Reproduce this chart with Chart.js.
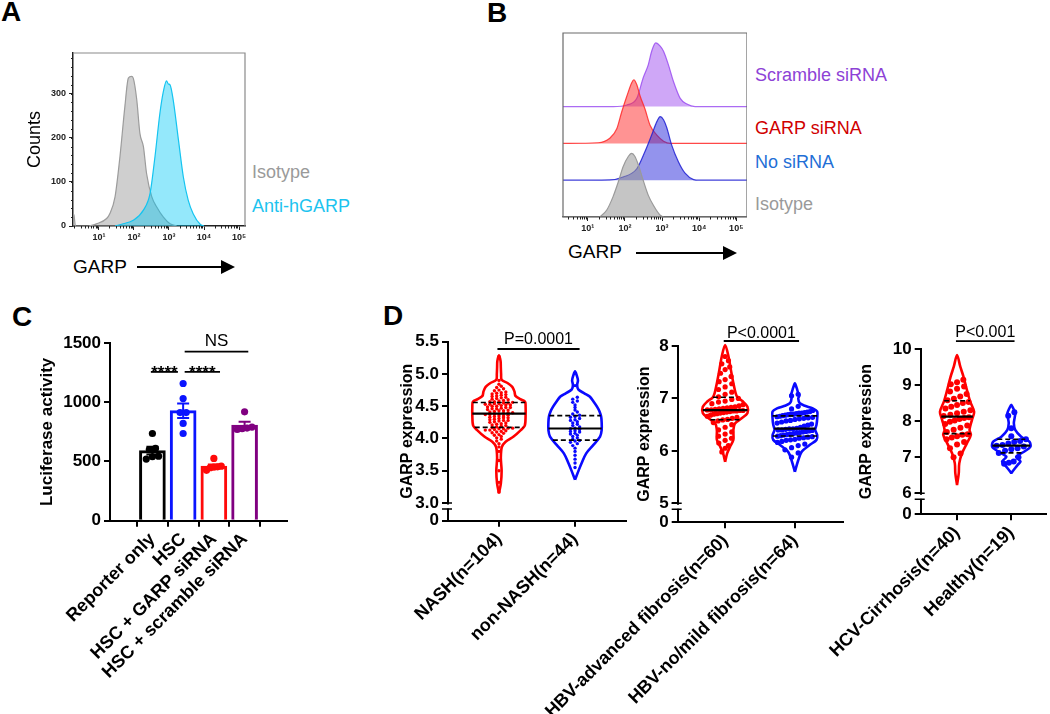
<!DOCTYPE html>
<html>
<head>
<meta charset="utf-8">
<script src="https://cdn.jsdelivr.net/npm/chart.js@4.4.1/dist/chart.umd.min.js"></script>
<style>
  body { margin: 0; width: 1050px; height: 714px; background: #fff; position: relative; overflow: hidden;
         font-family: "Liberation Sans", Arial, sans-serif; }
  canvas { position: absolute; }
  .lbl { position: absolute; white-space: nowrap; line-height: 1; }
  .letter { font-weight: bold; font-size: 28px; }
  .arrow { position: absolute; height: 2px; background: #000; }
  .arrow:after { content: ""; position: absolute; right: -2px; top: -6px;
                 border-left: 14px solid #000; border-top: 7px solid transparent; border-bottom: 7px solid transparent; }
</style>
</head>
<body>

<div class="lbl letter" style="left:1px;top:-2px">A</div>
<div class="lbl letter" style="left:487px;top:-1px">B</div>
<div class="lbl letter" style="left:12px;top:303px">C</div>
<div class="lbl letter" style="left:383px;top:302px">D</div>

<canvas id="cA" style="left:0;top:45px" width="250" height="205"></canvas>
<div class="lbl" style="left:252px;top:163px;font-size:18px;color:#9a9a9a">Isotype</div>
<div class="lbl" style="left:252px;top:197px;font-size:18px;color:#1cc3ef">Anti-hGARP</div>
<div class="lbl" style="left:73px;top:257px;font-size:19px">GARP</div>
<div class="arrow" style="left:137px;top:266px;width:96px"></div>

<canvas id="cB" style="left:555px;top:25px" width="192" height="214"></canvas>
<div class="lbl" style="left:755px;top:66px;font-size:18px;color:#8d42d6">Scramble siRNA</div>
<div class="lbl" style="left:755px;top:119px;font-size:18px;color:#d00000">GARP siRNA</div>
<div class="lbl" style="left:755px;top:153px;font-size:18px;color:#1f6fd6">No siRNA</div>
<div class="lbl" style="left:755px;top:195px;font-size:18px;color:#9a9a9a">Isotype</div>
<div class="lbl" style="left:568px;top:242px;font-size:19px">GARP</div>
<div class="arrow" style="left:636px;top:252px;width:99px"></div>

<canvas id="cC" style="left:0;top:300px" width="292" height="414"></canvas>
<canvas id="cD1" style="left:380px;top:300px" width="250" height="414"></canvas>
<canvas id="cD2" style="left:500px;top:300px" width="347" height="414"></canvas>
<canvas id="cD3" style="left:730px;top:300px" width="320" height="414"></canvas>

<script>
// ---- A: histogram, log10 intensity vs counts
const decades = [1, 2, 3, 4, 5];
const aIsoLog    = [0.26, 0.29, 0.33, 0.69, 0.93, 1.22, 1.31, 1.46, 1.60, 1.74, 1.84, 1.93, 1.98, 2.08, 2.17, 2.27, 2.36, 2.51, 2.65, 2.84, 3.03, 3.22];
const aIsoCount  = [28, 24, 0, 0, 5, 17, 28, 66, 157, 270, 335, 339, 335, 286, 210, 180, 119, 66, 43, 20, 5, 0];
const aAntiLog   = [1.46, 1.69, 1.98, 2.27, 2.46, 2.60, 2.74, 2.84, 2.93, 2.98, 3.03, 3.12, 3.27, 3.41, 3.55, 3.69, 3.89, 4.00];
const aAntiCount = [0, 5, 13, 36, 74, 157, 255, 305, 329, 322, 320, 286, 195, 111, 58, 28, 4, 0];

// ---- B: offset histograms, % of max
const bScrLog  = [0.33, 1.68, 2.05, 2.32, 2.49, 2.63, 2.72, 2.83, 2.95, 3.04, 3.17, 3.31, 3.49, 3.67, 3.89, 5.29];
const bScrPct  = [0, 0, 2.5, 13, 45, 66, 87, 100, 95, 87, 66, 39, 13, 4, 0, 0];
const bGarpLog = [0.33, 1.28, 1.59, 1.78, 1.91, 2.05, 2.18, 2.24, 2.32, 2.41, 2.54, 2.68, 2.86, 3.04, 3.22, 5.29];
const bGarpPct = [0, 1, 8, 23, 49, 74, 95, 100, 92, 74, 54, 28, 13, 3.5, 0, 0];
const bNoLog   = [0.33, 1.59, 1.95, 2.32, 2.54, 2.72, 2.86, 2.95, 3.04, 3.13, 3.26, 3.44, 3.62, 3.85, 4.00, 5.29];
const bNoPct   = [0, 0.5, 5, 18, 45, 71, 92, 100, 95, 82, 55, 29, 11, 1, 0, 0];
const bIsoLog  = [1.32, 1.51, 1.68, 1.82, 1.95, 2.09, 2.18, 2.27, 2.36, 2.49, 2.63, 2.77, 2.95, 3.04];
const bIsoPct  = [0, 11, 32, 55, 79, 95, 100, 95, 82, 58, 34, 18, 2.7, 0];

// ---- C: luciferase
const cLabels   = ['Reporter only', 'HSC', 'HSC + GARP siRNA', 'HSC + scramble siRNA'];
const cReporter = [736, 610, 600, 545, 540, 520];
const cHsc      = [1158, 1031, 913, 913, 821, 736];
const cGarp     = [526, 460, 455, 452, 448, 425];
const cScramble = [919, 790, 782, 776, 770];

// ---- D: GARP expression per group
const d1Labels = ['NASH(n=104)', 'non-NASH(n=44)'];
const nash = [3.17, 3.32, 3.50, 3.66, 3.80, 3.87, 3.92, 3.96, 3.99, 4.01, 4.03, 4.05, 4.06, 4.08, 4.09, 4.10, 4.11, 4.12, 4.13, 4.13, 4.14, 4.15, 4.15, 4.16, 4.16, 4.17,
  4.18, 4.19, 4.20, 4.21, 4.22, 4.23, 4.24, 4.25, 4.26, 4.27, 4.28, 4.28, 4.29, 4.30, 4.31, 4.32, 4.32, 4.33, 4.34, 4.35, 4.35, 4.36, 4.37, 4.37, 4.38, 4.38,
  4.39, 4.40, 4.40, 4.41, 4.42, 4.43, 4.43, 4.44, 4.45, 4.46, 4.46, 4.47, 4.48, 4.48, 4.49, 4.50, 4.50, 4.51, 4.52, 4.52, 4.53, 4.53, 4.54, 4.54, 4.55, 4.55,
  4.56, 4.57, 4.57, 4.58, 4.59, 4.60, 4.61, 4.62, 4.63, 4.64, 4.65, 4.66, 4.67, 4.68, 4.69, 4.70, 4.71, 4.72, 4.74, 4.75, 4.77, 4.79, 4.81, 4.84, 4.90, 5.27];
const nonNash = [3.55, 3.62, 3.68, 3.74, 3.80, 3.85, 3.89, 3.92, 3.94, 3.96, 3.97,
  3.99, 4.01, 4.03, 4.05, 4.07, 4.08, 4.10, 4.11, 4.12, 4.14, 4.15,
  4.16, 4.18, 4.20, 4.22, 4.24, 4.26, 4.28, 4.29, 4.31, 4.33, 4.34,
  4.36, 4.38, 4.41, 4.44, 4.48, 4.52, 4.56, 4.58, 4.61, 4.64, 4.82];
const nashProfY = [3.15, 3.30, 3.50, 3.70, 3.87, 3.95, 4.03, 4.13, 4.20, 4.35, 4.50, 4.57, 4.61, 4.66, 4.73, 4.80, 4.86, 4.91, 5.00, 5.10, 5.20, 5.29];
const nashProfW = [0, 0.07, 0.10, 0.07, 0.11, 0.25, 0.55, 0.82, 0.97, 1.0, 1.0, 0.98, 0.80, 0.62, 0.58, 0.50, 0.32, 0.10, 0.08, 0.07, 0.06, 0];
const nonNashProfY = [3.36, 3.51, 3.62, 3.77, 3.90, 4.03, 4.13, 4.25, 4.34, 4.42, 4.49, 4.57, 4.65, 4.70, 4.76, 4.83, 4.90, 4.97, 5.04];
const nonNashProfW = [0, 0.14, 0.25, 0.42, 0.69, 0.94, 1.0, 1.0, 0.98, 0.92, 0.83, 0.70, 0.55, 0.35, 0.12, 0.08, 0.11, 0.07, 0];

const d2Labels = ['HBV-advanced fibrosis(n=60)', 'HBV-no/mild fibrosis(n=64)'];
const hbvAdv = [5.98, 6.05, 6.10, 6.15, 6.20, 6.24, 6.28, 6.32, 6.36, 6.40, 6.45, 6.50, 6.54, 6.57, 6.59,
  6.60, 6.62, 6.64, 6.66, 6.68, 6.70, 6.71, 6.72, 6.73, 6.74, 6.75, 6.76, 6.76, 6.77, 6.77,
  6.78, 6.78, 6.79, 6.80, 6.81, 6.82, 6.83, 6.84, 6.86, 6.88, 6.90, 6.93, 6.95, 6.98, 7.00,
  7.03, 7.08, 7.12, 7.17, 7.22, 7.28, 7.32, 7.36, 7.42, 7.48, 7.55, 7.60, 7.66, 7.72, 7.80];
const hbvMild = [5.88, 5.96, 6.02, 6.06, 6.10, 6.13, 6.16, 6.18, 6.20, 6.21, 6.22, 6.24, 6.25, 6.26, 6.27, 6.28,
  6.29, 6.30, 6.31, 6.32, 6.33, 6.34, 6.35, 6.36, 6.37, 6.38, 6.39, 6.40, 6.40, 6.41, 6.42, 6.42,
  6.43, 6.45, 6.47, 6.49, 6.51, 6.53, 6.55, 6.57, 6.58, 6.60, 6.61, 6.62, 6.63, 6.64, 6.65, 6.66,
  6.67, 6.68, 6.69, 6.70, 6.70, 6.71, 6.72, 6.72, 6.73, 6.74, 6.75, 6.77, 6.80, 6.85, 7.05, 7.08];
const hbvAdvProfY = [5.79, 5.95, 6.08, 6.21, 6.40, 6.52, 6.62, 6.72, 6.84, 6.94, 7.02, 7.10, 7.29, 7.54, 7.80, 8.02];
const hbvAdvProfW = [0, 0.09, 0.22, 0.37, 0.37, 0.44, 0.74, 1.0, 1.0, 0.80, 0.55, 0.47, 0.37, 0.26, 0.15, 0];
const hbvMildProfY = [5.60, 5.82, 5.98, 6.11, 6.21, 6.30, 6.40, 6.50, 6.62, 6.75, 6.81, 6.86, 6.91, 7.00, 7.05, 7.10, 7.20, 7.29];
const hbvMildProfW = [0, 0.15, 0.30, 0.66, 0.97, 1.0, 0.91, 0.97, 1.0, 1.0, 0.80, 0.45, 0.22, 0.15, 0.20, 0.15, 0.08, 0];

const d3Labels = ['HCV-Cirrhosis(n=40)', 'Healthy(n=19)'];
const hcv = [7.00, 7.10, 7.25, 7.35, 7.42, 7.50, 7.55, 7.58, 7.62, 7.64,
  7.70, 7.76, 7.82, 7.88, 7.92, 7.98, 8.02, 8.06, 8.09, 8.11,
  8.14, 8.18, 8.22, 8.26, 8.30, 8.35, 8.40, 8.45, 8.50, 8.53,
  8.58, 8.62, 8.68, 8.75, 8.82, 8.90, 8.96, 9.02, 9.08, 9.15];
const healthy = [6.82, 6.85, 6.88, 7.00, 7.12, 7.18, 7.22, 7.25, 7.30, 7.32, 7.34, 7.38, 7.42, 7.45, 7.50, 7.58, 7.80, 8.15, 8.25];
const hcvProfY = [6.23, 6.55, 6.83, 7.11, 7.39, 7.62, 7.76, 8.03, 8.26, 8.54, 8.86, 9.23, 9.51, 9.83];
const hcvProfW = [0, 0.10, 0.13, 0.29, 0.58, 0.81, 0.73, 0.87, 1.0, 0.77, 0.58, 0.38, 0.19, 0];
const healthyProfY = [6.56, 6.70, 6.80, 6.88, 6.95, 7.02, 7.16, 7.29, 7.43, 7.57, 7.76, 7.94, 8.10, 8.22, 8.35, 8.45];
const healthyProfW = [0, 0.23, 0.40, 0.54, 0.40, 0.29, 0.77, 1.12, 1.06, 0.58, 0.23, 0.15, 0.20, 0.23, 0.12, 0];

const RED = '#ff0000', BLUE = '#0a0aff';

Chart.defaults.font.family = '"Liberation Sans", "DejaVu Sans", Arial, sans-serif';
Chart.defaults.color = '#000';
Chart.defaults.animation = false;
Chart.defaults.plugins.legend.display = false;
Chart.defaults.plugins.tooltip.enabled = false;

// fixed axis boxes so the plot areas land where they should
const fixY = w => s => { s.width = w; s.paddingTop = 0; s.paddingBottom = 0; };
const fixX = h => s => { s.height = h; s.paddingLeft = 0; s.paddingRight = 0; };
const setTicks = vals => s => { s.ticks = vals.map(v => ({ value: v })); };

const sup = ['⁰', '¹', '²', '³', '⁴', '⁵'];
const decadeLabel = v => '10' + sup[v];

const mean = a => a.reduce((s, v) => s + v, 0) / a.length;
const sem = a => {
  const m = mean(a);
  return Math.sqrt(a.reduce((s, v) => s + (v - m) * (v - m), 0) / (a.length - 1)) / Math.sqrt(a.length);
};
function quantile(sorted, p) {
  const pos = p * (sorted.length + 1) - 1;
  const lo = Math.max(0, Math.min(sorted.length - 1, Math.floor(pos)));
  const hi = Math.min(sorted.length - 1, lo + 1);
  return sorted[lo] + (sorted[hi] - sorted[lo]) * (pos - Math.floor(pos));
}
function profileAt(ys, ws, y) {
  if (y <= ys[0]) return ws[0];
  for (let i = 1; i < ys.length; i++) {
    if (y <= ys[i]) return ws[i - 1] + (y - ys[i - 1]) / (ys[i] - ys[i - 1]) * (ws[i] - ws[i - 1]);
  }
  return ws[ws.length - 1];
}

// dots grouped into rows, spread sideways inside the available width
function arrangeDots(values, center, bin, step, halfAt) {
  const rows = [];
  [...values].sort((a, b) => a - b).forEach(v => {
    const r = rows[rows.length - 1];
    if (r && v - r[0] < bin) r.push(v); else rows.push([v]);
  });
  const pts = [];
  rows.forEach(r => {
    let st = step;
    if (r.length > 1) st = Math.min(step, 2 * halfAt(mean(r)) * 0.8 / (r.length - 1));
    r.forEach((v, i) => pts.push({ x: center + (i - (r.length - 1) / 2) * st, y: v }));
  });
  return pts;
}

// frame + minor log ticks for the cytometry panels
const flowPlugin = {
  id: 'flow',
  afterDraw(chart, args, o) {
    const { ctx, chartArea: a, scales: { x, y } } = chart;
    ctx.save();
    ctx.strokeStyle = o.frame; ctx.lineWidth = 1.2;
    ctx.beginPath();
    if (o.all) ctx.rect(a.left, a.top, a.right - a.left, a.bottom - a.top);
    else { ctx.moveTo(a.left, a.top); ctx.lineTo(a.right, a.top); ctx.lineTo(a.right, a.bottom); }
    ctx.stroke();
    ctx.strokeStyle = '#222'; ctx.lineWidth = 1;
    ctx.beginPath();
    for (let d = 0; d < 6; d++) {
      for (let k = 2; k < 10; k++) {
        const v = d + Math.log10(k);
        if (v < x.min || v > x.max) continue;
        const px = Math.round(x.getPixelForValue(v)) + 0.5;
        ctx.moveTo(px, a.bottom); ctx.lineTo(px, a.bottom + 2.5);
      }
    }
    if (o.yMinor) {
      for (let v = o.yMinor; v < y.max; v += o.yMinor) {
        const py = Math.round(y.getPixelForValue(v)) + 0.5;
        ctx.moveTo(a.left, py); ctx.lineTo(a.left - 2, py);
      }
    }
    ctx.stroke();
    ctx.restore();
  }
};

// significance lines with text
const notesPlugin = {
  id: 'notes',
  afterDraw(chart, args, o) {
    const { ctx, scales: { x, y } } = chart;
    ctx.save();
    ctx.strokeStyle = '#000'; ctx.fillStyle = '#000'; ctx.lineWidth = 1.8;
    ctx.textAlign = 'center'; ctx.textBaseline = 'alphabetic';
    o.items.forEach(it => {
      const x1 = x.getPixelForValue(it.from), x2 = x.getPixelForValue(it.to);
      const yl = y.getPixelForValue(it.at);
      ctx.beginPath(); ctx.moveTo(x1, yl); ctx.lineTo(x2, yl); ctx.stroke();
      ctx.font = it.font;
      ctx.fillText(it.text, (x1 + x2) / 2, y.getPixelForValue(it.textAt));
    });
    ctx.restore();
  }
};

// broken y axis just below the lowest labelled tick
const breakPlugin = {
  id: 'brk',
  afterDraw(chart, args, o) {
    const { ctx, scales: { y } } = chart;
    const x0 = chart.chartArea.left;
    const yb = y.getPixelForValue(o.at);
    ctx.save();
    ctx.fillStyle = '#fff';
    ctx.fillRect(x0 - 2, yb + 1.5, 4, 4);
    ctx.strokeStyle = '#000'; ctx.lineWidth = 1.6;
    ctx.beginPath();
    ctx.moveTo(x0 - 6, yb); ctx.lineTo(x0 + 4, yb);
    ctx.moveTo(x0 - 6, yb + 6); ctx.lineTo(x0 + 4, yb + 6);
    ctx.stroke();
    ctx.restore();
  }
};

// mean ± SEM
const semPlugin = {
  id: 'sem',
  afterDatasetsDraw(chart, args, o) {
    const { ctx, scales: { x, y } } = chart;
    ctx.save(); ctx.lineWidth = 2;
    o.means.forEach((m, i) => {
      const px = x.getPixelForValue(i + 1);
      const top = y.getPixelForValue(m + o.sems[i]), bot = y.getPixelForValue(m - o.sems[i]);
      ctx.strokeStyle = o.colors[i];
      ctx.beginPath();
      ctx.moveTo(px, top); ctx.lineTo(px, bot);
      ctx.moveTo(px - 6, top); ctx.lineTo(px + 6, top);
      ctx.moveTo(px - 6, bot); ctx.lineTo(px + 6, bot);
      ctx.stroke();
    });
    ctx.restore();
  }
};

const smallTick = { size: 9, weight: 'bold' };
const catFont = { size: 18, weight: 'bold' };

// ---------- A
function hist(xs, ys, fill, line) {
  return {
    data: xs.map((x, i) => ({ x, y: ys[i] })),
    backgroundColor: fill, borderColor: line, borderWidth: 1.2,
    fill: 'origin', pointRadius: 0, cubicInterpolationMode: 'monotone'
  };
}

new Chart(document.getElementById('cA'), {
  type: 'line',
  data: {
    datasets: [
      hist(aAntiLog, aAntiCount, 'rgba(0,200,245,0.42)', '#14c4f0'),
      hist(aIsoLog, aIsoCount, 'rgba(160,160,160,0.5)', '#9c9c9c'),
    ]
  },
  options: {
    responsive: false,
    layout: { padding: { top: 8, right: 5, left: 0, bottom: 0 } },
    scales: {
      x: {
        type: 'linear', min: 0.26, max: 5.17,
        afterFit: fixX(24), afterBuildTicks: setTicks(decades),
        ticks: { callback: v => decadeLabel(v), font: smallTick, color: '#222', maxRotation: 0, padding: 2 },
        grid: { drawOnChartArea: false, tickLength: 4, color: '#222' },
        border: { color: '#222', width: 1.5 }
      },
      y: {
        min: 0, max: 392,
        afterFit: fixY(73), afterBuildTicks: setTicks([0, 100, 200, 300]),
        ticks: { font: smallTick, color: '#222', padding: 3 },
        grid: { drawOnChartArea: false, tickLength: 4, color: '#222' },
        border: { color: '#222', width: 1.5 },
        title: { display: true, text: 'Counts', font: { size: 18 }, padding: { top: 24, bottom: 0 } }
      }
    },
    plugins: { flow: { frame: '#8a8a8a', all: false, yMinor: 20 } }
  },
  plugins: [flowPlugin]
});

// ---------- B
const ridgePeak = 1.73;   // 100 % of max, in rows
function ridge(xs, pcts, base, fill, line) {
  return {
    data: xs.map((x, i) => ({ x, y: base + pcts[i] / 100 * ridgePeak })),
    backgroundColor: fill, borderColor: line, borderWidth: 1.2,
    fill: { value: base }, pointRadius: 0, cubicInterpolationMode: 'monotone', clip: false
  };
}

new Chart(document.getElementById('cB'), {
  type: 'line',
  data: {
    datasets: [
      ridge(bIsoLog, bIsoPct, 0, 'rgba(150,150,150,0.55)', '#9a9a9a'),
      ridge(bNoLog, bNoPct, 1, 'rgba(40,40,220,0.5)', 'rgba(30,30,210,0.85)'),
      ridge(bGarpLog, bGarpPct, 2, 'rgba(255,40,40,0.5)', 'rgba(255,40,40,0.85)'),
      ridge(bScrLog, bScrPct, 3, 'rgba(160,80,240,0.5)', 'rgba(150,70,240,0.8)'),
    ]
  },
  options: {
    responsive: false,
    layout: { padding: { top: 8, right: 0, left: 8, bottom: 0 } },
    scales: {
      x: {
        type: 'linear', min: 0.33, max: 5.29,
        afterFit: fixX(22), afterBuildTicks: setTicks(decades),
        ticks: { callback: v => decadeLabel(v), font: smallTick, color: '#222', maxRotation: 0, padding: 2 },
        grid: { drawOnChartArea: false, tickLength: 4, color: '#222' },
        border: { color: '#6a6a6a', width: 1.2 }
      },
      y: { display: false, min: 0, max: 5 }
    },
    plugins: { flow: { frame: '#6a6a6a', all: true } }
  },
  plugins: [flowPlugin]
});

// ---------- C
const cGroups = [cReporter, cHsc, cGarp, cScramble];
const cColors = ['#000000', '#0a14ff', '#ff0a0a', '#800080'];
const cMeans = cGroups.map(mean);
const cSems = cGroups.map(sem);

new Chart(document.getElementById('cC'), {
  type: 'bar',
  data: {
    datasets: [
      ...cGroups.map((g, i) => ({
        type: 'scatter', order: 1,
        data: arrangeDots(g, i + 1, 40, 0.2, () => 0.3),
        backgroundColor: cColors[i], borderWidth: 0, pointRadius: 3.6
      })),
      {
        type: 'bar', order: 3,
        data: cMeans.map((m, i) => ({ x: i + 1, y: m })),
        backgroundColor: '#fff', borderColor: cColors, borderWidth: 3, barThickness: 26
      }
    ]
  },
  options: {
    responsive: false,
    layout: { padding: { top: 43, right: 5, left: 0, bottom: 0 } },
    scales: {
      x: {
        type: 'linear', min: 0.34, max: 4.66,
        afterFit: fixX(193.3), afterBuildTicks: setTicks([1, 2, 3, 4]),
        ticks: { callback: v => cLabels[v - 1], font: catFont, autoSkip: false, minRotation: 45, maxRotation: 45, padding: 2 },
        grid: { drawOnChartArea: false, tickLength: 6, color: '#000', lineWidth: 2 },
        border: { color: '#000', width: 2 }
      },
      y: {
        min: 0, max: 1500,
        afterFit: fixY(110), afterBuildTicks: setTicks([0, 500, 1000, 1500]),
        ticks: { callback: v => String(v), font: { size: 17, weight: 'bold' }, padding: 3 },
        grid: { drawOnChartArea: false, tickLength: 6, color: '#000', lineWidth: 2 },
        border: { color: '#000', width: 2 },
        title: { display: true, text: 'Luciferase activity', font: { size: 17, weight: 'bold' }, padding: { top: 37, bottom: 0 } }
      }
    },
    plugins: {
      sem: { means: cMeans, sems: cSems, colors: cColors },
      notes: {
        items: [
          { from: 0.95, to: 1.83, at: 1256, text: '****', textAt: 1208, font: 'bold 17px "Liberation Sans", Arial' },
          { from: 2.05, to: 3.2, at: 1256, text: '****', textAt: 1208, font: 'bold 17px "Liberation Sans", Arial' },
          { from: 2.05, to: 4.12, at: 1427, text: 'NS', textAt: 1472, font: '17px "Liberation Sans", Arial' },
        ]
      }
    }
  },
  plugins: [semPlugin, notesPlugin]
});

// ---------- D
function violinChart(id, o) {
  const datasets = [];
  o.groups.forEach((g, i) => {
    const c = i + 1;
    const half = y => profileAt(g.profY, g.profW, y) * o.maxHalf;
    const right = g.profY.map((y, k) => ({ x: c + g.profW[k] * o.maxHalf, y }));
    const left = g.profY.map((y, k) => ({ x: c - g.profW[k] * o.maxHalf, y })).reverse();
    datasets.push({
      data: right.concat(left.slice(1)), showLine: true, order: 3, clip: false,
      borderColor: g.color, borderWidth: 2.6, pointRadius: 0, tension: 0.3, fill: false
    });
    const sorted = [...g.values].sort((a, b) => a - b);
    [0.25, 0.5, 0.75].forEach(p => {
      const q = quantile(sorted, p), w = half(q);
      datasets.push({
        data: [{ x: c - w, y: q }, { x: c + w, y: q }], showLine: true, order: 1,
        borderColor: '#000', borderWidth: p === 0.5 ? 2.2 : 1.6, borderDash: p === 0.5 ? [] : [5, 3], pointRadius: 0
      });
    });
    datasets.push({
      data: arrangeDots(g.values, c, o.bin, o.step, half), order: 2,
      backgroundColor: g.color, borderWidth: 0, pointRadius: o.dot
    });
  });

  new Chart(document.getElementById(id), {
    type: 'scatter',
    data: { datasets },
    options: {
      responsive: false,
      layout: { padding: { top: o.padTop, right: o.padRight, left: 0, bottom: 0 } },
      scales: {
        x: {
          type: 'linear', min: o.xMin, max: o.xMax,
          afterFit: fixX(o.xH), afterBuildTicks: setTicks([1, 2]),
          ticks: { callback: v => o.labels[v - 1], font: catFont, autoSkip: false, minRotation: 45, maxRotation: 45, padding: 2 },
          grid: { drawOnChartArea: false, tickLength: 6, color: '#000', lineWidth: 2 },
          border: { color: '#000', width: 2 }
        },
        y: {
          min: o.yMin, max: o.yMax,
          afterFit: fixY(o.yW), afterBuildTicks: setTicks([o.yMin, ...o.yTicks]),
          ticks: { callback: (v, i) => i === 0 ? '0' : o.fmt(v), font: { size: 17, weight: 'bold' }, padding: 3 },
          grid: { drawOnChartArea: false, tickLength: 6, color: '#000', lineWidth: 2 },
          border: { color: '#000', width: 2 },
          title: { display: true, text: 'GARP expression', font: { size: 16, weight: 'bold' }, padding: { top: o.titlePad, bottom: 0 } }
        }
      },
      plugins: {
        brk: { at: o.yTicks[0] },
        notes: { items: [{ from: 0.98, to: 2.06, at: o.pLine, text: o.pText, textAt: o.pTextAt, font: '16px "Liberation Sans", Arial' }] }
      }
    },
    plugins: [breakPlugin, notesPlugin]
  });
}

violinChart('cD1', {
  labels: d1Labels,
  groups: [
    { values: nash, profY: nashProfY, profW: nashProfW, color: RED },
    { values: nonNash, profY: nonNashProfY, profW: nonNashProfW, color: BLUE },
  ],
  maxHalf: 0.35, bin: 0.035, step: 0.06, dot: 1.7,
  xMin: 0.33, xMax: 2.67, yMin: 2.726, yMax: 5.5, yTicks: [3.0, 3.5, 4.0, 4.5, 5.0, 5.5], fmt: v => v.toFixed(1),
  padTop: 41.7, padRight: 3, yW: 68, xH: 193.3, titlePad: 18.4,
  pLine: 5.387, pText: 'P=0.0001', pTextAt: 5.464
});

violinChart('cD2', {
  labels: d2Labels,
  groups: [
    { values: hbvAdv, profY: hbvAdvProfY, profW: hbvAdvProfW, color: RED },
    { values: hbvMild, profY: hbvMildProfY, profW: hbvMildProfW, color: BLUE },
  ],
  maxHalf: 0.32, bin: 0.12, step: 0.095, dot: 2.6,
  xMin: 0.32, xMax: 2.69, yMin: 4.637, yMax: 8, yTicks: [5, 6, 7, 8], fmt: v => String(v),
  padTop: 46, padRight: 2, yW: 177.7, xH: 191.7, titlePad: 135.4,
  pLine: 8.095, pText: 'P<0.0001', pTextAt: 8.147
});

violinChart('cD3', {
  labels: d3Labels,
  groups: [
    { values: hcv, profY: hcvProfY, profW: hcvProfW, color: RED },
    { values: healthy, profY: healthyProfY, profW: healthyProfW, color: BLUE },
  ],
  maxHalf: 0.315, bin: 0.19, step: 0.13, dot: 3,
  xMin: 0.33, xMax: 2.64, yMin: 5.418, yMax: 10, yTicks: [6, 7, 8, 9, 10], fmt: v => String(v),
  padTop: 49, padRight: 2, yW: 190.7, xH: 199.7, titlePad: 127.4,
  pLine: 10.22, pText: 'P<0.001', pTextAt: 10.34
});
</script>
</body>
</html>
